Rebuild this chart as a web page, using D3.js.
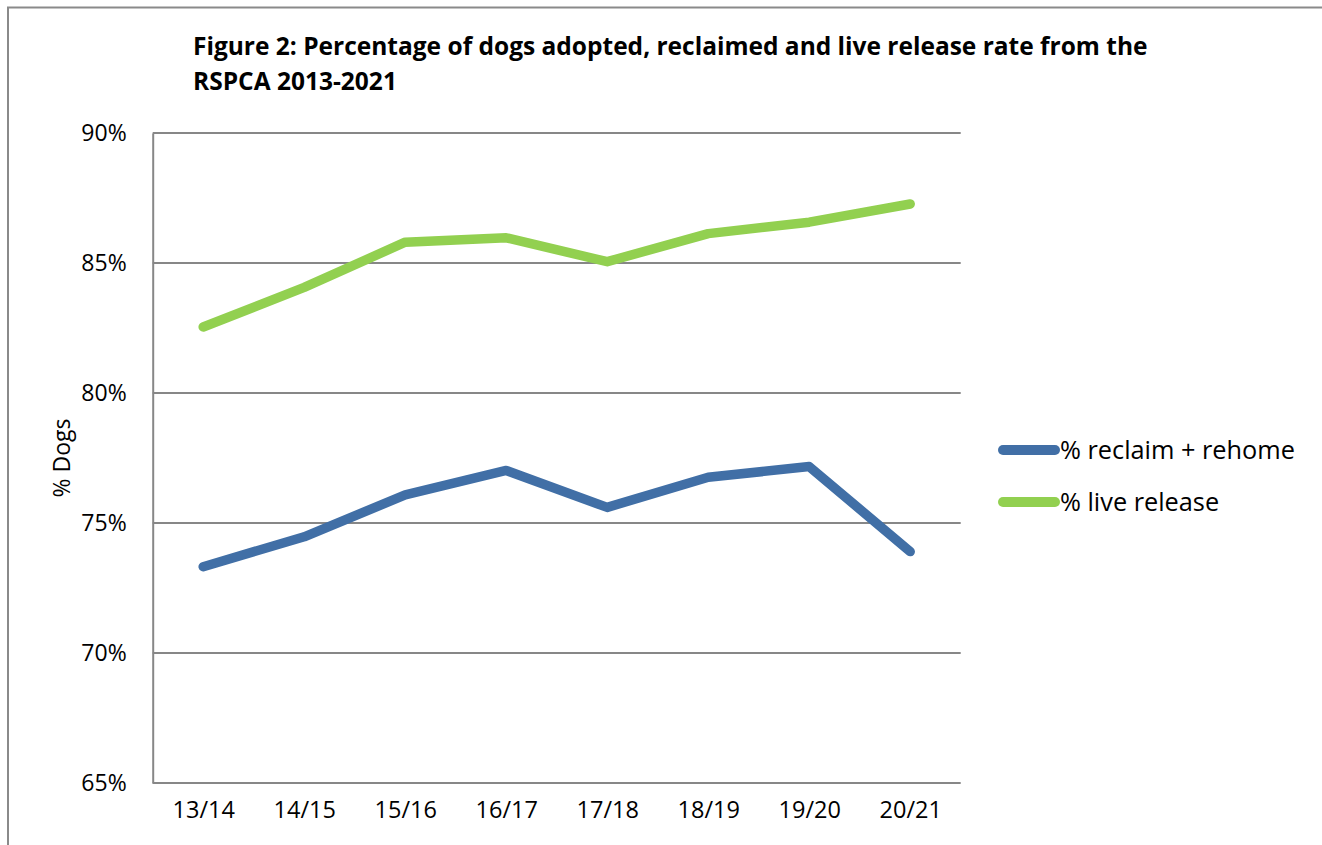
<!DOCTYPE html>
<html>
<head>
<meta charset="utf-8">
<script src="https://cdn.jsdelivr.net/npm/d3@7"></script>
<style>
  html, body { margin: 0; padding: 0; background: #fff; }
  svg { display: block; }
  text { font-family: "Open Sans", "Noto Sans", sans-serif; fill: #000; }
</style>
</head>
<body>
<svg id="chart" width="1322" height="845"></svg>
<script>
// Financial years on the x axis
const years = ["13/14", "14/15", "15/16", "16/17", "17/18", "18/19", "19/20", "20/21"];

// Series values (percent of dogs)
const reclaimRehome = [73.32, 74.47, 76.08, 77.02, 75.6, 76.76, 77.17, 73.9];
const liveRelease   = [82.54, 84.06, 85.8, 85.97, 85.05, 86.13, 86.57, 87.27];

// Series names and y-axis ticks
const seriesNames = ["% reclaim + rehome", "% live release"];
const yTicks = [65, 70, 75, 80, 85, 90];

const titleLines = [
  "Figure 2: Percentage of dogs adopted, reclaimed and live release rate from the",
  "RSPCA 2013-2021"
];

const colors = ["#416FA6", "#92D050"];
const gridColor = "#878787";

const svg = d3.select("#chart");
const plot = { left: 152.7, right: 960.7, top: 133, bottom: 783 };

// Outer frame (top and left edges)
svg.append("path")
  .attr("d", `M8,845 L8,7.5 L1322,7.5`)
  .attr("fill", "none")
  .attr("stroke", "#8a8a8a")
  .attr("stroke-width", 2);

// Title
const title = svg.append("g");
const t1 = title.append("text")
  .attr("x", 193).attr("y", 55)
  .attr("font-weight", "bold")
  .attr("font-size", 22)
  .text(titleLines[0]);
// size the title so the first line spans its intended width
const natural = t1.node().getComputedTextLength();
const titleSize = 22 * 955 / natural;
t1.attr("font-size", titleSize);
title.append("text")
  .attr("x", 193).attr("y", 90)
  .attr("font-weight", "bold")
  .attr("font-size", titleSize)
  .text(titleLines[1]);

// Scales
const x = d3.scalePoint()
  .domain(years)
  .range([plot.left, plot.right])
  .padding(0.5);

const y = d3.scaleLinear()
  .domain([65, 90])
  .range([plot.bottom, plot.top]);

// Horizontal gridlines
svg.append("g")
  .selectAll("line")
  .data(yTicks.filter(d => d !== 65))
  .join("line")
  .attr("x1", plot.left).attr("x2", plot.right)
  .attr("y1", d => y(d)).attr("y2", d => y(d))
  .attr("stroke", gridColor)
  .attr("stroke-width", 2);

// Y axis
const yAxis = svg.append("g")
  .attr("transform", `translate(${plot.left},0)`)
  .call(d3.axisLeft(y).tickValues(yTicks).tickSize(0).tickPadding(26)
    .tickFormat(d => d + "%"));
yAxis.select(".domain").attr("stroke", gridColor).attr("stroke-width", 2);
yAxis.selectAll("text")
  .attr("font-size", 23)
  .attr("font-family", "'Open Sans', sans-serif")
  .attr("fill", "#000");

// X axis
const xAxis = svg.append("g")
  .attr("transform", `translate(0,${plot.bottom})`)
  .call(d3.axisBottom(x).tickSize(0).tickPadding(18));
xAxis.select(".domain").attr("stroke", gridColor).attr("stroke-width", 2)
  .attr("d", `M${plot.left},0H${plot.right}`);
xAxis.selectAll("text")
  .attr("font-size", 23.5)
  .attr("font-family", "'Open Sans', sans-serif")
  .attr("fill", "#000");

// Y axis title
svg.append("text")
  .attr("transform", `translate(70,${(plot.top + plot.bottom) / 2}) rotate(-90)`)
  .attr("text-anchor", "middle")
  .attr("font-size", 23)
  .text("% Dogs");

// Lines
const line = d3.line()
  .x((d, i) => x(years[i]))
  .y(d => y(d));

const series = [reclaimRehome, liveRelease];
svg.append("g")
  .selectAll("path")
  .data(series)
  .join("path")
  .attr("d", d => line(d))
  .attr("fill", "none")
  .attr("stroke", (d, i) => colors[i])
  .attr("stroke-width", 9.5)
  .attr("stroke-linecap", "round")
  .attr("stroke-linejoin", "round");

// Legend
const legend = svg.append("g")
  .selectAll("g")
  .data(seriesNames)
  .join("g")
  .attr("transform", (d, i) => `translate(1003,${450 + i * 52})`);
legend.append("line")
  .attr("x1", 0).attr("x2", 52)
  .attr("y1", 0).attr("y2", 0)
  .attr("stroke", (d, i) => colors[i])
  .attr("stroke-width", 10)
  .attr("stroke-linecap", "round");
legend.append("text")
  .attr("x", 57)
  .attr("dy", "0.34em")
  .attr("font-size", 25.3)
  .text(d => d);
</script>
</body>
</html>
